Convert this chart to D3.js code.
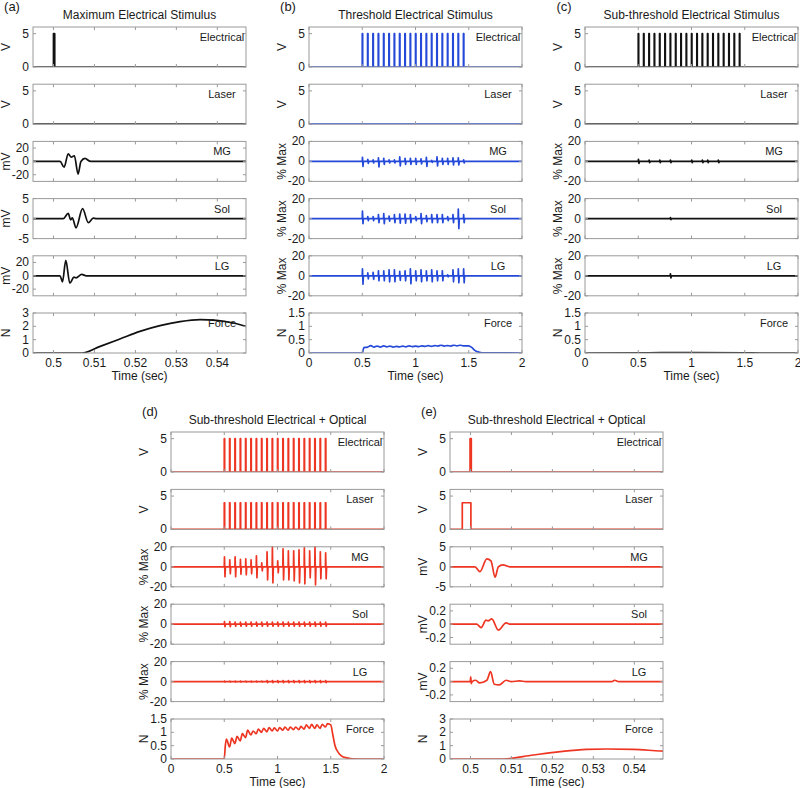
<!DOCTYPE html>
<html><head><meta charset="utf-8">
<script src="https://cdn.jsdelivr.net/npm/d3@7"></script>
<style>
body{margin:0;background:#fff}
text{font-family:Arial,"Liberation Sans",sans-serif;fill:#1a1a1a}
</style>
</head><body>
<svg id="chart" width="800" height="788"></svg>
<script>
// ---------------- DATA ----------------
const panelLetters = ["(a)", "(b)", "(c)", "(d)", "(e)"];
const panelTitles = ["Maximum Electrical Stimulus", "Threshold Electrical Stimulus",
  "Sub-threshold Electrical Stimulus", "Sub-threshold Electrical + Optical", "Sub-threshold Electrical + Optical"];
const rowNames = ["Electrical", "Laser", "MG", "Sol", "LG", "Force"];

const xTicksShort = [0.5, 0.51, 0.52, 0.53, 0.54];
const xTicksLong = [0, 0.5, 1, 1.5, 2];
const xDomainShort = [0.495, 0.547];
const xDomainLong = [0, 2];

// stimulus train onset times (s)
const pulseTimes = [0.5, 0.55, 0.6, 0.65, 0.7, 0.75, 0.8, 0.85, 0.9, 0.95,
  1.0, 1.05, 1.1, 1.15, 1.2, 1.25, 1.3, 1.35, 1.4, 1.45];

// single pulses [start, end, height]
const aElectrical = [[0.5, 0.5003, 5]];
const eElectrical = [[0.4999, 0.5002, 5]];
const eLaser = [[0.498, 0.5001, 4]];

// (a) Maximum stimulus EMG (mV) and force (N): [time, value]
const aMG = [[0.495,0],[0.5016,0],[0.5026,-8.6],[0.5036,11.5],[0.5043,6.5],[0.5051,8.5],[0.5060,-19],[0.5067,0],[0.5077,4.5],[0.5088,0.5],[0.5095,0],[0.547,0]];
const aSol = [[0.495,0],[0.5024,0],[0.5036,1.3],[0.5042,-0.3],[0.5046,0.2],[0.5055,-2.3],[0.5071,2.5],[0.5085,-1],[0.5097,0.1],[0.5105,0],[0.547,0]];
const aLG = [[0.495,0],[0.5016,0],[0.5022,-9],[0.5030,23],[0.5040,-11],[0.5050,-2],[0.5055,-3],[0.5069,2],[0.5080,0],[0.547,0]];
const aForce = [[0.495,0],[0.5069,0],[0.5114,0.5],[0.5162,1.05],[0.5211,1.62],[0.5260,2.05],[0.5309,2.35],[0.5358,2.5],[0.5398,2.45],[0.5439,2.25],[0.547,2.0]];

// (b) Threshold stimulus: spike amplitudes [up, down] in % Max per pulse
const bMG = [[4,5],[2,2],[1.5,1.5],[3.5,5.5],[3,3],[1.5,1.5],[1.5,1.5],[4.5,4.5],[3,3],[3,3],[3,3],[2.5,2.5],[4,5],[1,1],[4.5,4.5],[3,3],[3,3],[3.5,3.5],[3.5,3.5],[1.5,1.5]];
const bSol = [[7.5,5],[2,2],[2,2],[4,4],[5,5],[2.5,2.5],[4,4],[4.5,4.5],[4.5,4.5],[4,4],[2,2],[5,5],[3,3],[4,4],[4,4],[4,4],[2,2],[4,4],[9.5,10],[4,4]];
const bLG = [[7,8.5],[3,3],[3.5,3.5],[5,5],[5,5],[6,6],[6,6],[4.5,4.5],[5,5],[7,8],[5,5],[6,6],[5,5],[6,6],[5,5],[5,5],[1,1],[6,6],[7,7],[7,7]];
const bForce = [[0,0],[0.5,0],[0.515,0.2],[0.55,0.22],[0.58,0.28],[0.61,0.22],[0.64,0.26],[0.67,0.22],[0.7,0.27],[0.73,0.23],[0.76,0.26],[0.79,0.22],[0.82,0.25],[0.85,0.23],[0.88,0.26],[0.91,0.23],[0.94,0.27],[0.97,0.24],[1.0,0.26],[1.03,0.24],[1.06,0.27],[1.09,0.25],[1.12,0.28],[1.15,0.25],[1.18,0.28],[1.21,0.26],[1.24,0.29],[1.27,0.26],[1.3,0.28],[1.33,0.26],[1.36,0.29],[1.39,0.27],[1.42,0.29],[1.45,0.27],[1.5,0.27],[1.53,0.2],[1.56,0.09],[1.6,0.03],[1.65,0.005],[2,0]];

// (c) Sub-threshold electrical
const cMG = [[2,2],[0,0],[1.2,1.2],[0,0],[1.2,1.2],[0,0],[1.2,1.2],[0,0],[0,0],[0,0],[1.2,1.2],[0,0],[1.2,1.2],[1.2,1.2],[0,0],[1.2,1.2],[0,0],[0,0],[0,0],[0,0]];
const cSol = [[0,0],[0,0],[0,0],[0,0],[0,0],[0,0],[1,1],[0,0],[0,0],[0,0],[0,0],[0,0],[0,0],[0,0],[0,0],[0,0],[0,0],[0,0],[0,0],[0,0]];
const cLG = [[0,0],[0,0],[0,0],[0,0],[0,0],[0,0],[2,2],[0,0],[0,0],[0,0],[0,0],[0,0],[0,0],[0,0],[0,0],[0,0],[0,0],[0,0],[0,0],[0,0]];
const cForce = [[0,0],[0.6,0.01],[1.0,0.015],[1.5,0.01],[1.65,0],[2,0]];

// (d) Sub-threshold electrical + optical train
const dMG = [[10,10],[7,7],[10,10],[7.5,7.5],[8,8],[7,7],[11,11],[4,4],[15,13],[20,16],[6,6],[18,13],[16,13],[16,14],[17,16],[19,17],[16,11],[20,18],[15,12],[14,12]];
const dSol = [[2.5,2.5],[2.5,2.5],[2,2],[2,2],[2,2],[2,2],[2,2],[2,2],[2,2],[2,2],[2,2],[2,2],[2,2],[2,2],[2,2],[2,2],[2,2],[2,2],[2,2],[2,2]];
const dLG = [[0.5,0.5],[0.5,0.5],[0.5,0.5],[0.5,0.5],[0.5,0.5],[0.5,0.5],[0.5,0.5],[0.5,0.5],[1,1],[1,1],[1,1],[1,1],[1,1],[1,1],[1,1],[1,1],[1,1],[1,1],[1,1],[1,1]];
const dForce = [[0,0],[0.5,0],[0.51,0.5],[0.52,0.75],[0.55,0.45],[0.57,0.78],[0.6,0.58],[0.62,0.85],[0.65,0.68],[0.67,0.95],[0.7,0.8],[0.72,1.08],[0.75,0.9],[0.77,1.05],[0.8,0.95],[0.82,1.12],[0.85,1.0],[0.87,1.15],[0.9,1.02],[0.92,1.18],[0.95,1.05],[0.97,1.17],[1.0,1.05],[1.02,1.18],[1.05,1.08],[1.07,1.2],[1.1,1.08],[1.12,1.2],[1.15,1.1],[1.17,1.2],[1.2,1.1],[1.22,1.22],[1.25,1.12],[1.27,1.28],[1.3,1.15],[1.32,1.3],[1.35,1.15],[1.37,1.28],[1.4,1.15],[1.42,1.3],[1.45,1.2],[1.47,1.33],[1.5,1.28],[1.52,0.9],[1.54,0.5],[1.57,0.25],[1.6,0.12],[1.65,0.04],[1.7,0.01],[1.8,0],[2,0]];

// (e) Single sub-threshold electrical + optical pulse
const eMG = [[0.495,0],[0.5011,0],[0.5023,-1.2],[0.5040,2],[0.5050,1.5],[0.5060,-2.6],[0.5068,0],[0.5079,0.5],[0.5096,0],[0.547,0]];
const eSol = [[0.495,0],[0.5015,0],[0.5026,-0.05],[0.5038,0.06],[0.5043,0.05],[0.5052,0.08],[0.5068,-0.09],[0.5087,0.02],[0.5096,0],[0.547,0]];
const eLG = [[0.495,0],[0.49995,0],[0.50005,0.07],[0.5002,-0.03],[0.5004,0],[0.5013,0.02],[0.5022,-0.02],[0.5040,0.02],[0.5049,0.15],[0.5058,-0.04],[0.5070,-0.05],[0.5087,0.02],[0.5100,0],[0.5120,0.01],[0.5135,0],[0.5345,0],[0.5352,0.02],[0.5362,0],[0.547,0]];
const eForce = [[0.495,0],[0.508,0],[0.5153,0.3],[0.5219,0.55],[0.5284,0.72],[0.5332,0.75],[0.5397,0.72],[0.5463,0.6],[0.547,0.59]];

// ---------------- HELPERS ----------------
function pulsePoints(pulses, x0, x1) {
  const pts = [[x0, 0]];
  pulses.forEach(p => { pts.push([p[0], 0], [p[0], p[2]], [p[1], p[2]], [p[1], 0]); });
  pts.push([x1, 0]);
  return pts;
}
function trainPoints(times, h, w, x0, x1) {
  return pulsePoints(times.map(t => [t, t + w, h]), x0, x1);
}
function spikePoints(times, amps, x0, x1) {
  const pts = [[x0, 0]];
  times.forEach((t, i) => {
    const a = amps[i];
    pts.push([t, 0], [t + 0.002, a[0]], [t + 0.007, -a[1]], [t + 0.011, 0]);
  });
  pts.push([x1, 0]);
  return pts;
}

const BLACK = "#111111", BLUE = "#2449d8", RED = "#ee3522";

const yV = {dom: [0, 6], ticks: [0, 5], label: "V"};
const yPct = {dom: [-20, 20], ticks: [-20, 0, 20], label: "% Max"};
const yNlong = {dom: [0, 1.5], ticks: [0, 0.5, 1, 1.5], label: "N"};
const yN3 = {dom: [0, 3], ticks: [0, 1, 2, 3], label: "N"};

const panels = [
  {left: 33, top: 27, step: 57.2, color: BLACK, xd: xDomainShort, xt: xTicksShort,
   rows: [
    {y: yV, pts: pulsePoints(aElectrical, 0.495, 0.547), curve: d3.curveLinear},
    {y: yV, pts: [[0.495,0],[0.547,0]], curve: d3.curveLinear},
    {y: {dom: [-30, 30], ticks: [-20, 0, 20], label: "mV"}, pts: aMG, curve: d3.curveMonotoneX},
    {y: {dom: [-5, 5], ticks: [-5, 0, 5], label: "mV"}, pts: aSol, curve: d3.curveMonotoneX},
    {y: {dom: [-30, 30], ticks: [-20, 0, 20], label: "mV"}, pts: aLG, curve: d3.curveMonotoneX},
    {y: yN3, pts: aForce, curve: d3.curveMonotoneX}]},
  {left: 309, top: 27, step: 57.2, color: BLUE, xd: xDomainLong, xt: xTicksLong,
   rows: [
    {y: yV, pts: trainPoints(pulseTimes, 5, 0.004, 0, 2), curve: d3.curveLinear},
    {y: yV, pts: [[0,0],[2,0]], curve: d3.curveLinear},
    {y: yPct, pts: spikePoints(pulseTimes, bMG, 0, 2), curve: d3.curveLinear},
    {y: yPct, pts: spikePoints(pulseTimes, bSol, 0, 2), curve: d3.curveLinear},
    {y: yPct, pts: spikePoints(pulseTimes, bLG, 0, 2), curve: d3.curveLinear},
    {y: yNlong, pts: bForce, curve: d3.curveMonotoneX}]},
  {left: 585, top: 27, step: 57.2, color: BLACK, xd: xDomainLong, xt: xTicksLong,
   rows: [
    {y: yV, pts: trainPoints(pulseTimes, 5, 0.004, 0, 2), curve: d3.curveLinear},
    {y: yV, pts: [[0,0],[2,0]], curve: d3.curveLinear},
    {y: yPct, pts: spikePoints(pulseTimes, cMG, 0, 2), curve: d3.curveLinear},
    {y: yPct, pts: spikePoints(pulseTimes, cSol, 0, 2), curve: d3.curveLinear},
    {y: yPct, pts: spikePoints(pulseTimes, cLG, 0, 2), curve: d3.curveLinear},
    {y: yNlong, pts: cForce, curve: d3.curveMonotoneX}]},
  {left: 171, top: 432, step: 57.4, color: RED, xd: xDomainLong, xt: xTicksLong,
   rows: [
    {y: yV, pts: trainPoints(pulseTimes, 5, 0.004, 0, 2), curve: d3.curveLinear},
    {y: yV, pts: trainPoints(pulseTimes, 4, 0.004, 0, 2), curve: d3.curveLinear},
    {y: yPct, pts: spikePoints(pulseTimes, dMG, 0, 2), curve: d3.curveLinear},
    {y: yPct, pts: spikePoints(pulseTimes, dSol, 0, 2), curve: d3.curveLinear},
    {y: yPct, pts: spikePoints(pulseTimes, dLG, 0, 2), curve: d3.curveLinear},
    {y: yNlong, pts: dForce, curve: d3.curveMonotoneX}]},
  {left: 450, top: 432, step: 57.4, color: RED, xd: xDomainShort, xt: xTicksShort,
   rows: [
    {y: yV, pts: pulsePoints(eElectrical, 0.495, 0.547), curve: d3.curveLinear},
    {y: yV, pts: pulsePoints(eLaser, 0.495, 0.547), curve: d3.curveLinear},
    {y: {dom: [-5, 5], ticks: [-5, 0, 5], label: "mV"}, pts: eMG, curve: d3.curveMonotoneX},
    {y: {dom: [-0.3, 0.3], ticks: [-0.2, 0, 0.2], label: "mV"}, pts: eSol, curve: d3.curveMonotoneX},
    {y: {dom: [-0.3, 0.3], ticks: [-0.2, 0, 0.2], label: "mV"}, pts: eLG, curve: d3.curveMonotoneX},
    {y: yN3, pts: eForce, curve: d3.curveMonotoneX}]}
];

// ---------------- DRAW ----------------
const svg = d3.select("#chart");
const W = 213, H = 40, TICK = 3, GRAY = "#9a9a9a";
const fmt = v => String(v);

panels.forEach((p, pi) => {
  const x = d3.scaleLinear().domain(p.xd).range([0, W]);
  const pg = svg.append("g").attr("transform", `translate(${p.left},${p.top})`);
  pg.append("text").attr("x", -21).attr("y", -16).attr("text-anchor", "middle")
    .style("font-size", "13px").text(panelLetters[pi]);
  pg.append("text").attr("x", W / 2).attr("y", -8).attr("text-anchor", "middle")
    .style("font-size", "12px").text(panelTitles[pi]);

  p.rows.forEach((r, ri) => {
    const y = d3.scaleLinear().domain(r.y.dom).range([H, 0]);
    const g = pg.append("g").attr("transform", `translate(0,${ri * p.step})`);
    const cid = `clip-${pi}-${ri}`;
    g.append("clipPath").attr("id", cid).append("rect")
      .attr("x", 0).attr("y", -1).attr("width", W).attr("height", H + 1);

    // data line
    g.append("path").datum(r.pts)
      .attr("clip-path", `url(#${cid})`)
      .attr("fill", "none").attr("stroke", p.color).attr("stroke-width", 1.7)
      .attr("stroke-linejoin", "round")
      .attr("d", d3.line().x(d => x(d[0])).y(d => y(d[1])).curve(r.curve));

    // box
    g.append("rect").attr("x", 0).attr("y", 0).attr("width", W).attr("height", H)
      .attr("fill", "none").attr("stroke", GRAY).attr("stroke-width", 1);

    // x ticks (top & bottom, inward)
    p.xt.forEach(t => {
      const xx = x(t);
      g.append("line").attr("x1", xx).attr("x2", xx).attr("y1", H).attr("y2", H - TICK).attr("stroke", GRAY);
      g.append("line").attr("x1", xx).attr("x2", xx).attr("y1", 0).attr("y2", TICK).attr("stroke", GRAY);
    });
    // y ticks (left & right, inward) + labels
    r.y.ticks.forEach(t => {
      const yy = y(t);
      g.append("line").attr("x1", 0).attr("x2", TICK).attr("y1", yy).attr("y2", yy).attr("stroke", GRAY);
      g.append("line").attr("x1", W).attr("x2", W - TICK).attr("y1", yy).attr("y2", yy).attr("stroke", GRAY);
      g.append("text").attr("x", -4).attr("y", yy + 4).attr("text-anchor", "end")
        .style("font-size", "12px").text(fmt(t));
    });
    // y label
    g.append("text").attr("transform", `translate(-27,${H / 2}) rotate(-90)`)
      .attr("text-anchor", "middle").attr("dy", "0.35em").style("font-size", "12px").text(r.y.label);
    // inside name
    g.append("text").attr("x", W - 24).attr("y", 14).attr("text-anchor", "middle")
      .style("font-size", "11px").text(rowNames[ri]);

    // bottom axis labels
    if (ri === p.rows.length - 1) {
      p.xt.forEach(t => {
        g.append("text").attr("x", x(t)).attr("y", H + 14).attr("text-anchor", "middle")
          .style("font-size", "12px").text(fmt(t));
      });
      g.append("text").attr("x", W / 2).attr("y", H + 27).attr("text-anchor", "middle")
        .style("font-size", "12px").text("Time (sec)");
    }
  });
});
</script>
</body></html>
